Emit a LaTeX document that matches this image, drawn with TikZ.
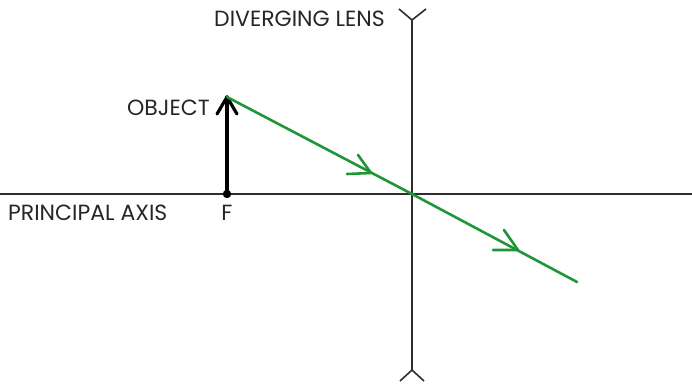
\documentclass[tikz,border=0pt]{standalone}
\usepackage{fontspec}
\setmainfont{Poppins}
\definecolor{raygreen}{RGB}{30,150,55}
\definecolor{linegray}{RGB}{45,45,45}
\tikzset{
  thinline/.style={draw=linegray, line width=1.6pt},
  objline/.style={draw=black, line width=3.2pt, line cap=round, line join=round},
  ray/.style={draw=raygreen, line width=2.6pt, line cap=round},
  rayhead/.style={draw=raygreen, line width=2.6pt, line cap=round, line join=round},
  lbl/.style={font=\fontsize{22}{22}\selectfont, inner sep=0pt, text=black!85}
}
\begin{document}
\begin{tikzpicture}[x=1pt,y=-1pt]
\useasboundingbox (0,0) rectangle (692,383);
% axis
\coordinate (axL) at (0,194);
\coordinate (axR) at (692,194);
\draw[thinline] (axL) -- (axR);
% lens
\coordinate (lT) at (412,20);
\coordinate (lB) at (412,370);
\coordinate (lC) at (412,194);
\draw[thinline] (lT) -- (lB);
\draw[thinline] (399,9) -- (lT) -- (426,9);
\draw[thinline] (400,381) -- (lB) -- (424,381);
% object
\coordinate (oB) at (227,194);
\coordinate (oT) at (227,97);
\draw[objline] (oB) -- (oT);
\draw[objline] (217,114) -- (oT) -- (237,114);
\fill[black] (oB) circle (4.2);
% ray
\coordinate (rE) at (577,282);
\draw[ray] (oT) -- (lC) -- (rE);
\coordinate (h1) at (371,173);
\coordinate (h2) at (518,250);
\draw[rayhead] (358,155) -- (h1) -- (347,174);
\draw[rayhead] (504,230) -- (h2) -- (493,250);
% labels
\node[lbl, anchor=west] (tlens) at (214,19) {DIVERGING LENS};
\node[lbl, anchor=east] (tobj) at (210,108) {OBJECT};
\node[lbl, anchor=west] (tax) at (8,213) {PRINCIPAL AXIS};
\node[lbl] (tf) at (227,213) {F};
\end{tikzpicture}
\end{document}
